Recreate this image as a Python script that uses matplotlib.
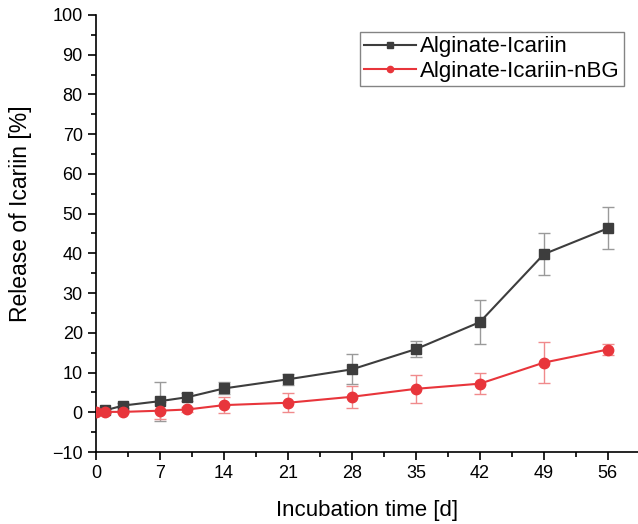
import numpy as np
import matplotlib.pyplot as plt
from matplotlib.ticker import MultipleLocator

plt.rcParams['font.family'] = ['Liberation Sans', 'DejaVu Sans']

# Alginate-Icariin
days_alg = [1, 3, 7, 10, 14, 21, 28, 35, 42, 49, 56]
rel_alg = [0.5, 1.7, 2.8, 3.8, 6.0, 8.3, 10.8, 15.9, 22.7, 39.8, 46.3]
err_alg = [0.4, 0.6, 4.9, 1.0, 1.5, 1.4, 3.8, 2.0, 5.5, 5.3, 5.3]

# Alginate-Icariin-nBG
days_nbg = [0, 1, 3, 7, 10, 14, 21, 28, 35, 42, 49, 56]
rel_nbg = [0.0, 0.1, 0.1, 0.4, 0.7, 1.8, 2.4, 3.9, 5.9, 7.2, 12.5, 15.8]
err_nbg = [0.3, 0.3, 0.4, 2.2, 0.6, 2.1, 2.4, 2.8, 3.6, 2.6, 5.2, 1.5]

xticks = [0, 7, 14, 21, 28, 35, 42, 49, 56]

fig = plt.figure(figsize=(6.38, 5.24), dpi=100)
ax = fig.add_axes([0.1505, 0.1374, 0.8495, 0.834])

ax.errorbar(days_alg, rel_alg, yerr=err_alg, fmt='none', ecolor='#9a9a9a',
            elinewidth=1, capsize=4, capthick=1, zorder=2)
ax.errorbar(days_nbg, rel_nbg, yerr=err_nbg, fmt='none', ecolor='#f08a8c',
            elinewidth=1, capsize=4, capthick=1, zorder=2)
ax.plot(days_alg, rel_alg, color='#3d3d3d', marker='s', markersize=7,
        linewidth=1.5, label='Alginate-Icariin', zorder=3)
ax.plot(days_nbg, rel_nbg, color='#e8353b', marker='o', markersize=7.5,
        linewidth=1.5, label='Alginate-Icariin-nBG', zorder=3)

ax.set_xlim(0, 59.3)
ax.set_ylim(-10, 100)
ax.set_xticks(xticks)
ax.xaxis.set_minor_locator(MultipleLocator(3.5))
ax.yaxis.set_major_locator(MultipleLocator(10))
ax.yaxis.set_minor_locator(MultipleLocator(5))
ax.tick_params(which='major', direction='out', length=6, width=1.2, labelsize=13)
ax.tick_params(which='minor', direction='out', length=3.5, width=1.2)

for s in ['top', 'right']:
    ax.spines[s].set_visible(False)
for s in ['left', 'bottom']:
    ax.spines[s].set_linewidth(1.2)

ax.set_xlabel('Incubation time [d]', fontsize=16, labelpad=13)
ax.set_ylabel('Release of Icariin [%]', fontsize=16.5)
ax.yaxis.set_label_coords(-0.118, 0.545)

leg = ax.legend(loc='upper left', bbox_to_anchor=(0.487, 0.961), fontsize=16,
                frameon=True, fancybox=False, edgecolor='#666666',
                handlelength=2.3, borderpad=0.2, labelspacing=0.15,
                handletextpad=0.2, markerscale=0.6, borderaxespad=0)
leg.get_frame().set_linewidth(1)

fig.savefig('out.png', dpi=100)
